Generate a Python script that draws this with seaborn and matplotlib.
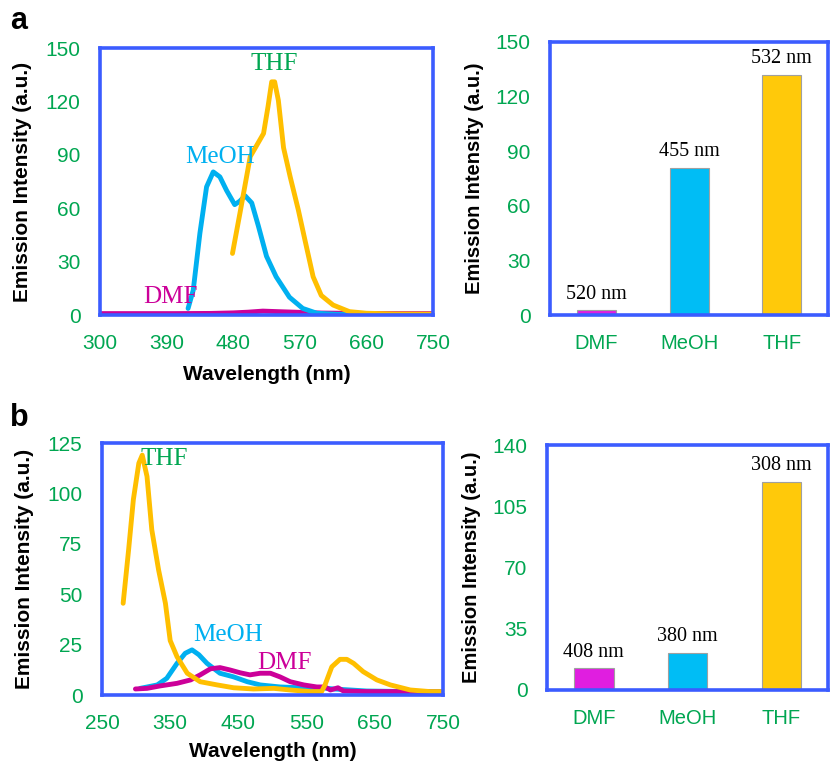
import numpy as np
import pandas as pd
import matplotlib
matplotlib.use('Agg')
import matplotlib.pyplot as plt
import seaborn as sns

# ---- panel a, emission spectra ----
a_meoh_wl = [419, 426, 435, 444, 453, 462, 471, 482, 489, 496, 505, 514, 525, 538, 556, 574, 593, 620, 680, 750]
a_meoh_int = [3.7, 14, 46, 72, 80.4, 77.6, 70, 62, 64, 67, 63, 50, 33, 21.5, 10, 3.7, 1, 0.4, 0.3, 0.3]
a_thf_wl = [479, 489, 503, 521, 527, 532, 536, 541, 548, 557, 568, 577, 588, 599, 615, 637, 660, 700, 750]
a_thf_int = [34.6, 57, 89, 102, 117, 131, 131, 120.6, 94, 77.6, 59, 42, 21.5, 11, 5.6, 1.9, 1.0, 0.6, 0.5]
a_dmf_wl = [300, 350, 400, 450, 480, 500, 520, 540, 570, 600, 650, 700, 750]
a_dmf_int = [0.8, 0.8, 0.8, 0.9, 1.2, 1.6, 2.2, 1.9, 1.5, 1.1, 0.9, 0.8, 0.8]

# ---- panel b ----
b_thf_wl = [281, 289, 296, 304, 309, 316, 323, 333, 343, 350, 360, 375, 394, 419, 443, 472, 502, 526, 555, 572,
            577, 587, 599, 609, 619, 633, 653, 673, 702, 731, 750]
b_thf_int = [45.5, 72, 97, 115, 119, 108.4, 82, 62, 45.5, 27, 19, 10.8, 6.6, 5, 3.6, 3, 3.3, 2.5, 1.7, 1.7,
             5, 14, 17.7, 17.7, 15.7, 11.6, 7.5, 5, 2.5, 1.7, 1.7]
b_meoh_wl = [306, 331, 345, 360, 372, 382, 392, 404, 423, 443, 463, 482, 511, 541, 570, 590, 638, 700, 750]
b_meoh_int = [3.3, 5, 8.3, 15.7, 20.7, 22.4, 20, 15.7, 10.8, 9, 6.6, 5, 4, 3.6, 3.6, 3, 2, 1.7, 1.7]
b_dmf_wl = [299, 316, 335, 360, 380, 394, 409, 423, 438, 453, 467, 482, 497, 511, 526, 546, 565, 577, 585,
            596, 604, 639, 687, 750]
b_dmf_int = [3, 3.3, 4.5, 5.8, 7.5, 10, 13, 13.6, 12.4, 11, 10, 10.8, 10.8, 9, 6.6, 5, 4, 4, 2.5,
             3.6, 2, 1.7, 1.7, 1.5]

# ---- bar panels ----
solvents = ['DMF', 'MeOH', 'THF']
a_peak_int = [2.5, 81, 132]
a_peak_wl = ['520 nm', '455 nm', '532 nm']
b_peak_int = [12.3, 21, 119]
b_peak_wl = ['408 nm', '380 nm', '308 nm']

c_dmf = '#cc0099'
c_meoh = '#00b0f0'
c_thf = '#ffbf00'
bar_cols = ['#e01ee0', '#00bdf5', '#ffc90a']
blue = '#3b5cff'
green = '#00a651'

sns.set_style('white')
plt.rcParams['font.family'] = ['Liberation Sans', 'DejaVu Sans']

fig = plt.figure(figsize=(8.3, 7.62), dpi=100)
ax_a = fig.add_axes([0.1205, 0.5866, 0.4012, 0.3504])
ax_ab = fig.add_axes([0.6627, 0.5866, 0.335, 0.3583])
ax_b = fig.add_axes([0.1229, 0.0879, 0.4108, 0.3307])
ax_bb = fig.add_axes([0.659, 0.0945, 0.339, 0.3215])


def style(ax):
    for s in ax.spines.values():
        s.set_color(blue)
        s.set_linewidth(2.6)
        s.set_visible(True)
    ax.tick_params(axis='both', direction='out', color=blue, width=2.4, length=6,
                   labelcolor=green, labelsize=15, pad=8)
    ax.set_ylabel('Emission Intensity (a.u.)', fontsize=14.5, fontweight='bold', color='black', labelpad=8)


serif = dict(family=['Liberation Serif', 'DejaVu Serif'])

# panel a spectra
sns.lineplot(x=a_dmf_wl, y=a_dmf_int, color=c_dmf, linewidth=3.5, ax=ax_a)
sns.lineplot(x=a_meoh_wl, y=a_meoh_int, color=c_meoh, linewidth=3.5, ax=ax_a)
sns.lineplot(x=a_thf_wl, y=a_thf_int, color=c_thf, linewidth=3.5, ax=ax_a)
ax_a.set_xlim(300, 750)
ax_a.set_ylim(0, 150)
ax_a.set_xticks(np.arange(300, 751, 90))
ax_a.set_yticks(np.arange(0, 151, 30))
style(ax_a)
ax_a.set_xlabel('Wavelength (nm)', fontsize=15, fontweight='bold', color='black', labelpad=8)
ax_a.set_ylabel('Emission Intensity (a.u.)', fontsize=15, fontweight='bold', color='black', labelpad=10)
ax_a.text(535, 141, 'THF', color=green, fontsize=18, ha='center', va='center', **serif)
ax_a.text(462, 89, 'MeOH', color=c_meoh, fontsize=18, ha='center', va='center', **serif)
ax_a.text(395, 10, 'DMF', color=c_dmf, fontsize=18, ha='center', va='center', **serif)

# panel b spectra
sns.lineplot(x=b_meoh_wl, y=b_meoh_int, color=c_meoh, linewidth=3.5, ax=ax_b)
sns.lineplot(x=b_dmf_wl, y=b_dmf_int, color=c_dmf, linewidth=3.5, ax=ax_b)
sns.lineplot(x=b_thf_wl, y=b_thf_int, color=c_thf, linewidth=3.5, ax=ax_b)
ax_b.set_xlim(250, 750)
ax_b.set_ylim(0, 125)
ax_b.set_xticks(np.arange(250, 751, 100))
ax_b.set_yticks(np.arange(0, 126, 25))
style(ax_b)
ax_b.set_xlabel('Wavelength (nm)', fontsize=15, fontweight='bold', color='black', labelpad=6)
ax_b.set_ylabel('Emission Intensity (a.u.)', fontsize=15, fontweight='bold', color='black', labelpad=10)
ax_b.text(342, 117, 'THF', color=green, fontsize=18, ha='center', va='center', **serif)
ax_b.text(435, 30, 'MeOH', color=c_meoh, fontsize=18, ha='center', va='center', **serif)
ax_b.text(518, 16, 'DMF', color=c_dmf, fontsize=18, ha='center', va='center', **serif)


def bars(ax, vals, labels, ymax, step):
    sns.barplot(x=solvents, y=vals, hue=solvents, palette=bar_cols, width=0.42, saturation=1,
                edgecolor='#a0a0a0', linewidth=0.8, legend=False, ax=ax)
    ax.set_xlim(-0.5, 2.5)
    ax.set_ylim(0, ymax)
    ax.set_yticks(np.arange(0, ymax + 1, step))
    style(ax)
    ax.set_xticks([0, 1, 2])
    ax.set_xticklabels(solvents)
    ax.set_xticks([-0.5, 0.5, 1.5, 2.5], minor=True)
    ax.tick_params(axis='x', which='major', length=0, pad=14, labelsize=14.5)
    ax.tick_params(axis='x', which='minor', direction='out', color=blue, width=2.4, length=7)
    ax.set_xlabel('')
    for i, (v, t) in enumerate(zip(vals, labels)):
        ax.annotate(t, (i, v), xytext=(0, 5), textcoords='offset points',
                    ha='center', va='bottom', fontsize=14.5, color='black', **serif)


bars(ax_ab, a_peak_int, a_peak_wl, 150, 30)
bars(ax_bb, b_peak_int, b_peak_wl, 140, 35)

fig.text(0.012, 0.972, 'a', fontsize=22, fontweight='bold', color='black', va='center')
fig.text(0.012, 0.452, 'b', fontsize=22, fontweight='bold', color='black', va='center')

fig.savefig('out.png', dpi=100)
